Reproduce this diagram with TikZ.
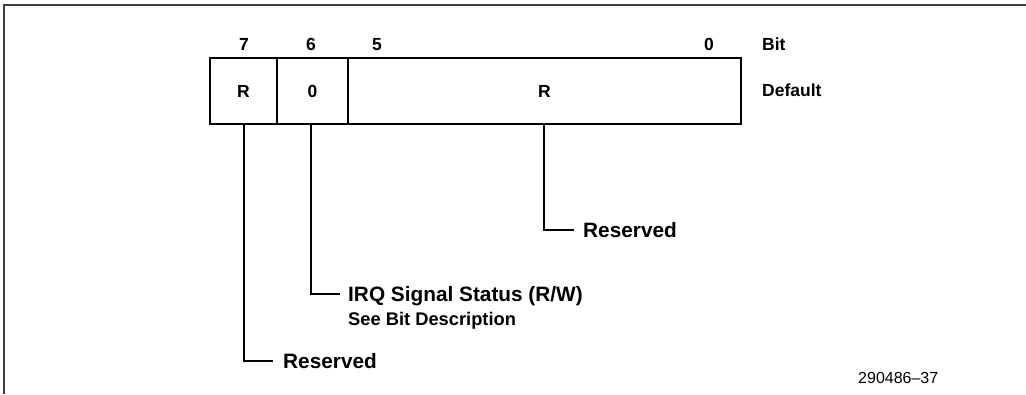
\documentclass[tikz,border=0pt]{standalone}
\usepackage{fontspec}
\setmainfont{Liberation Sans}
\begin{document}
\begin{tikzpicture}[x=1pt,y=-1pt,
  field/.style={draw,line width=2pt,minimum height=66pt,inner sep=0pt,anchor=center,
    font=\fontsize{17.5}{19}\selectfont\bfseries},
  bitno/.style={anchor=base,inner sep=0pt,font=\fontsize{17.5}{19}\selectfont\bfseries},
  side/.style={anchor=base west,inner sep=0pt,font=\fontsize{17.5}{19}\selectfont\bfseries},
  lab/.style={anchor=base west,inner sep=0pt,text height=14.4pt,text depth=0pt,
    font=\fontsize{20.8}{22}\selectfont\bfseries},
  sublab/.style={anchor=base west,inner sep=0pt,font=\fontsize{18.3}{20}\selectfont\bfseries},
  lead/.style={line width=2pt},
  framel/.style={line width=2pt,draw=black!75}]
\useasboundingbox (0,0) rectangle (1026,394);
% frame
\draw[framel] (3.5,394) -- (3.5,4.5) -- (1026,4.5);
% register fields
\node[field,minimum width=67pt] (f7) at (243.5,91) {R};
\node[field,minimum width=71pt] (f6) at (312.5,91) {0};
\node[field,minimum width=393pt] (f50) at (544.5,91) {R};
% bit numbers
\node[bitno] (b7) at (244,50) {7};
\node[bitno] (b6) at (311,50) {6};
\node[bitno] (b5) at (377,50) {5};
\node[bitno] (b0) at (709,50) {0};
\node[side] (bit) at (762,50) {Bit};
\node[side] (def) at (762,96) {Default};
% labels
\node[lab] (r50) at (583,237) {Reserved};
\node[lab] (irq) at (348,301) {IRQ Signal Status (R/W)};
\node[sublab] (irqsub) at (348,325) {See Bit Description};
\node[lab] (r7) at (283,368) {Reserved};
\node[anchor=base west,inner sep=0pt,font=\fontsize{16}{18}\selectfont] (fig) at (858,383) {290486--37};
% leaders
\draw[lead] (f7.south) |- ([xshift=-10pt]r7.west);
\draw[lead] ([xshift=-2pt]f6.south) |- ([xshift=-8pt]irq.west);
\draw[lead] ([xshift=-1pt]f50.south) |- ([xshift=-9pt]r50.west);
\end{tikzpicture}
\end{document}
